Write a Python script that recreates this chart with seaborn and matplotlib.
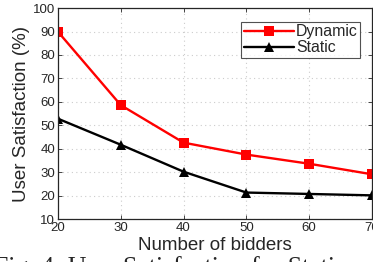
import pandas as pd
import seaborn as sns
import matplotlib.pyplot as plt

bidders = [20, 30, 40, 50, 60, 70]
dynamic = [89.9, 58.6, 42.6, 37.5, 33.6, 29.1]
static = [52.8, 41.7, 30.2, 21.3, 20.7, 20.1]
series_names = ["Dynamic", "Static"]

df = pd.DataFrame({
    "bidders": bidders * 2,
    "satisfaction": dynamic + static,
    "scheme": [series_names[0]] * len(bidders) + [series_names[1]] * len(bidders),
})

sns.set_style("ticks", {"xtick.direction": "in", "ytick.direction": "in"})
plt.rcParams["font.family"] = ["Liberation Sans", "DejaVu Sans"]

fig = plt.figure(figsize=(3.73, 2.62), dpi=100)
ax = fig.add_axes([0.1555, 0.164, 0.8415, 0.805])

sns.lineplot(data=df, x="bidders", y="satisfaction", hue="scheme", style="scheme",
             palette={"Dynamic": "#ff0000", "Static": "#000000"},
             markers={"Dynamic": "s", "Static": "^"}, dashes=False,
             markersize=6.5, markeredgewidth=0, linewidth=1.7, ax=ax)

ax.set_xlim(20, 70)
ax.set_ylim(10, 100)
ax.set_xticks(bidders)
ax.set_yticks(range(10, 101, 10))
ax.grid(True, linestyle=(0, (1, 3)), color="#cccccc", linewidth=0.8)
ax.tick_params(labelsize=9.5, colors="#262626", length=3, width=0.6,
               top=True, right=True, pad=2)
for s in ax.spines.values():
    s.set_linewidth(0.9)
    s.set_color("#262626")
ax.set_xlabel("Number of bidders", fontsize=13.5, labelpad=2, color="#262626")
ax.set_ylabel("User Satisfaction (%)", fontsize=13.5, labelpad=2, color="#262626")

leg = ax.legend(loc="upper right", bbox_to_anchor=(0.962, 0.934), fontsize=11.4,
                frameon=True, fancybox=False, edgecolor="#262626",
                handlelength=3.2, handletextpad=0.1, borderpad=0.15,
                labelspacing=0.05, borderaxespad=0)
leg.get_frame().set_linewidth(0.8)

fig.text(-0.016, -0.046, "Fig. 4: User Satisfaction for Static and Dynamic",
         fontsize=18.5, family=["Liberation Serif", "DejaVu Serif"],
         ha="left", va="baseline")

fig.savefig("out.png", dpi=100)
